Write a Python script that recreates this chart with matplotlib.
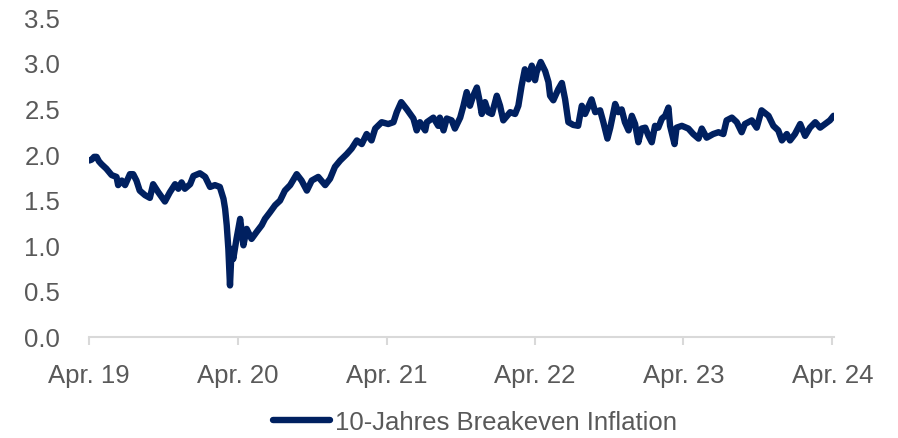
import matplotlib
matplotlib.use("Agg")
import matplotlib.pyplot as plt
import pandas as pd

dates = [
    "2019-04-01", "2019-04-07", "2019-04-13", "2019-04-19", "2019-04-25", "2019-05-01", "2019-05-13",
    "2019-05-26", "2019-06-07", "2019-06-11", "2019-06-20", "2019-06-28", "2019-07-10",
    "2019-07-18", "2019-07-26", "2019-08-03", "2019-08-16", "2019-08-28", "2019-09-05",
    "2019-09-18", "2019-10-04", "2019-10-16", "2019-10-29", "2019-11-06", "2019-11-14",
    "2019-11-22", "2019-12-05", "2019-12-13", "2019-12-29", "2020-01-11", "2020-01-23",
    "2020-02-04", "2020-02-16", "2020-02-25", "2020-02-29", "2020-03-04", "2020-03-08",
    "2020-03-12", "2020-03-16", "2020-03-20", "2020-03-28", "2020-04-06", "2020-04-14",
    "2020-04-22", "2020-05-04", "2020-05-17", "2020-05-29", "2020-06-06", "2020-06-18",
    "2020-07-01", "2020-07-13", "2020-07-25", "2020-08-07", "2020-08-23", "2020-09-04",
    "2020-09-17", "2020-09-29", "2020-10-15", "2020-11-01", "2020-11-13", "2020-11-25",
    "2020-12-08", "2020-12-24", "2021-01-05", "2021-01-18", "2021-01-30", "2021-02-11",
    "2021-02-23", "2021-03-04", "2021-03-20", "2021-04-05", "2021-04-18", "2021-04-26",
    "2021-05-07", "2021-05-21", "2021-06-06", "2021-06-14", "2021-06-22", "2021-07-05",
    "2021-07-09", "2021-07-25", "2021-08-06", "2021-08-10", "2021-08-19", "2021-08-27",
    "2021-09-08", "2021-09-16", "2021-09-29", "2021-10-07", "2021-10-15", "2021-10-23",
    "2021-10-31", "2021-11-09", "2021-11-15", "2021-11-21", "2021-11-29", "2021-12-07",
    "2021-12-16", "2021-12-28", "2022-01-05", "2022-01-13", "2022-01-30", "2022-02-11",
    "2022-02-19", "2022-02-27", "2022-03-07", "2022-03-16", "2022-03-24", "2022-04-01",
    "2022-04-05", "2022-04-15", "2022-04-26", "2022-05-04", "2022-05-08", "2022-05-16",
    "2022-05-28", "2022-06-06", "2022-06-14", "2022-06-22", "2022-07-04", "2022-07-16",
    "2022-07-25", "2022-08-02", "2022-08-18", "2022-08-27", "2022-09-08", "2022-09-16",
    "2022-09-26", "2022-10-03", "2022-10-15", "2022-10-23", "2022-10-31", "2022-11-08",
    "2022-11-17", "2022-11-25", "2022-12-03", "2022-12-11", "2022-12-19", "2022-12-28",
    "2023-01-05", "2023-01-13", "2023-01-21", "2023-01-29", "2023-02-07", "2023-02-15",
    "2023-02-23", "2023-02-27", "2023-03-10", "2023-03-15", "2023-03-28", "2023-04-13",
    "2023-04-25", "2023-05-08", "2023-05-16", "2023-05-28", "2023-06-13", "2023-06-26",
    "2023-07-08", "2023-07-16", "2023-07-29", "2023-08-10", "2023-08-22", "2023-08-30",
    "2023-09-16", "2023-09-28", "2023-10-10", "2023-10-27", "2023-11-08", "2023-11-20",
    "2023-11-29", "2023-12-11", "2023-12-19", "2023-12-31", "2024-01-13", "2024-01-25",
    "2024-02-06", "2024-02-19", "2024-03-02", "2024-03-14", "2024-03-26", "2024-04-04",
]
values = [
    1.93, 1.94, 1.97, 1.97, 1.92, 1.89, 1.84,
    1.77, 1.75, 1.66, 1.71, 1.66, 1.78,
    1.78, 1.71, 1.60, 1.55, 1.52, 1.67,
    1.58, 1.48, 1.58, 1.67, 1.62, 1.69,
    1.62, 1.67, 1.76, 1.79, 1.75, 1.64,
    1.66, 1.64, 1.51, 1.40, 1.22, 0.96,
    0.56, 0.96, 0.85, 1.07, 1.29, 1.00,
    1.18, 1.07, 1.15, 1.22, 1.29, 1.36,
    1.44, 1.49, 1.60, 1.66, 1.78, 1.71,
    1.60, 1.71, 1.75, 1.66, 1.73, 1.86,
    1.93, 2.00, 2.06, 2.15, 2.11, 2.22,
    2.15, 2.28, 2.35, 2.33, 2.35, 2.46,
    2.57, 2.49, 2.39, 2.26, 2.35, 2.26,
    2.35, 2.40, 2.31, 2.40, 2.26, 2.39,
    2.37, 2.28, 2.40, 2.53, 2.68, 2.53,
    2.64, 2.73, 2.60, 2.44, 2.57, 2.46,
    2.44, 2.64, 2.53, 2.37, 2.46, 2.44,
    2.53, 2.75, 2.93, 2.82, 2.97, 2.81,
    2.90, 3.01, 2.91, 2.79, 2.64, 2.59,
    2.71, 2.78, 2.60, 2.35, 2.32, 2.31,
    2.53, 2.44, 2.60, 2.46, 2.48, 2.35,
    2.17, 2.29, 2.55, 2.46, 2.49, 2.35,
    2.26, 2.42, 2.33, 2.13, 2.28, 2.29,
    2.20, 2.13, 2.31, 2.29, 2.39, 2.42,
    2.51, 2.31, 2.11, 2.29, 2.31, 2.28,
    2.22, 2.17, 2.28, 2.18, 2.22, 2.24,
    2.22, 2.37, 2.40, 2.35, 2.24, 2.33,
    2.37, 2.29, 2.48, 2.42, 2.31, 2.26,
    2.15, 2.22, 2.15, 2.22, 2.33, 2.20,
    2.29, 2.35, 2.29, 2.33, 2.37, 2.42,
]
series_name = "10-Jahres Breakeven Inflation"
tick_dates = ["2019-04-01", "2020-04-01", "2021-04-01", "2022-04-01", "2023-04-01", "2024-04-01"]
tick_labels = ["Apr. 19", "Apr. 20", "Apr. 21", "Apr. 22", "Apr. 23", "Apr. 24"]
y_ticks = [0.0, 0.5, 1.0, 1.5, 2.0, 2.5, 3.0, 3.5]

plt.rcParams['font.family'] = ['Liberation Sans', 'DejaVu Sans']

x = pd.to_datetime(dates)
fig = plt.figure(figsize=(8.98, 4.39), dpi=100)
ax = fig.add_axes([0.0994, 0.2312, 0.8293, 0.7271])
navy = "#002060"
grey = "#595959"
ax.plot(x, values, color=navy, lw=4.6, solid_capstyle="round", solid_joinstyle="round",
        label=series_name)

ax.set_xlim(pd.Timestamp("2019-04-01"), pd.Timestamp("2024-04-05"))
ax.set_ylim(0, 3.5)
ax.set_yticks(y_ticks)
ax.set_yticklabels([f"{v:.1f}" for v in y_ticks])
ax.set_xticks(pd.to_datetime(tick_dates))
ax.set_xticklabels(tick_labels)

for s in ["top", "right", "left"]:
    ax.spines[s].set_visible(False)
ax.spines["bottom"].set_color("#D9D9D9")
ax.spines["bottom"].set_linewidth(1.5)
ax.tick_params(axis="y", length=0, labelsize=18.5, labelcolor=grey, pad=21)
ax.tick_params(axis="x", length=6, width=1.5, color="#D9D9D9", labelsize=18.5,
               labelcolor=grey, pad=13)

leg = fig.legend(loc="center", bbox_to_anchor=(0.529, 0.036), frameon=False,
                 fontsize=18.5, handlelength=2.2, handletextpad=0.2)
for t in leg.get_texts():
    t.set_color(grey)

fig.savefig("out.png", dpi=100)
